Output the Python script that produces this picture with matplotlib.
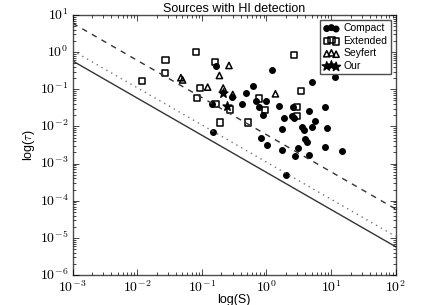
import numpy as np
import matplotlib
matplotlib.use('Agg')
import matplotlib.pyplot as plt
from matplotlib.ticker import FuncFormatter

plt.style.use('classic')
plt.rcParams['font.family'] = ['Liberation Sans', 'DejaVu Sans']
plt.rcParams['mathtext.fontset'] = 'cm'

# Compact sources: S, tau
compact_s = [0.164, 0.146, 0.292, 0.425, 0.490, 0.150, 1.216, 5.06, 11.7, 0.622,
             0.700, 1.00, 0.780, 1.560, 0.873, 2.57, 4.63, 7.91, 1.866, 2.455,
             2.636, 5.64, 3.55, 3.80, 5.12, 8.55, 1.738, 0.813, 3.94, 4.19,
             1.02, 3.13, 8.13, 1.770, 15.0, 2.76, 4.55, 1.98]
compact_tau = [0.431, 0.0402, 0.0601, 0.0406, 0.0783, 0.00730, 0.334, 0.157, 0.210, 0.124,
               0.0490, 0.0490, 0.0344, 0.0355, 0.0199, 0.0344, 0.0257, 0.0340, 0.0166, 0.0191,
               0.0169, 0.0137, 0.00977, 0.00802, 0.00977, 0.00918, 0.00863, 0.00504, 0.00473, 0.00385,
               0.00316, 0.00267, 0.00279, 0.00228, 0.00221, 0.00160, 0.00167, 0.000501]

# Extended sources
extended_s = [0.0117, 0.0269, 0.0275, 0.0818, 0.0927, 0.0832, 0.159, 0.163, 0.272,
              0.193, 0.522, 2.67, 3.42, 0.766, 0.948, 2.93, 2.96]
extended_tau = [0.167, 0.279, 0.603, 0.991, 0.107, 0.0593, 0.543, 0.0406, 0.0286,
                0.0128, 0.0128, 0.822, 0.0883, 0.0565, 0.0277, 0.0333, 0.0193]

# Seyfert
seyfert_s = [0.0474, 0.0505, 0.123, 0.187, 0.263, 0.214, 0.301, 1.377]
seyfert_tau = [0.205, 0.178, 0.114, 0.235, 0.437, 0.108, 0.0723, 0.0755]

# Our sources
our_s = [0.211, 0.242]
our_tau = [0.0794, 0.0366]

# detection limit lines tau = k / S
line_s = np.array([1e-3, 1e2])
k_solid = 5.8e-4
k_dotted = 1.1e-3
k_dashed = 6e-3

fig = plt.figure(figsize=(4.32, 3.05), dpi=100, facecolor='white')
ax = fig.add_axes([0.168, 0.098, 0.748, 0.853])

ax.plot(line_s, k_solid / line_s, '-', lw=1, color='0.2')
ax.plot(line_s, k_dotted / line_s, ':', lw=1, color='0.45')
ax.plot(line_s, k_dashed / line_s, '--', lw=1, color='0.2', dashes=(4, 4))

ax.scatter(compact_s, compact_tau, s=16, c='k', marker='o', label='Compact')
ax.scatter(extended_s, extended_tau, s=20, facecolors='none', edgecolors='k',
           marker='s', linewidths=1.1, label='Extended')
ax.scatter(seyfert_s, seyfert_tau, s=20, facecolors='none', edgecolors='k',
           marker='^', linewidths=1.1, label='Seyfert')
ax.scatter(our_s, our_tau, s=45, c='k', marker='*', label='Our')

ax.set_xscale('log')
ax.set_yscale('log')
ax.set_xlim(1e-3, 1e2)
ax.set_ylim(1e-6, 1e1)
fmt = FuncFormatter(lambda v, p: r'$10^{%d}$' % round(np.log10(v)))
ax.xaxis.set_major_formatter(fmt)
ax.yaxis.set_major_formatter(fmt)
ax.tick_params(labelsize=10, pad=3)
for sp in ax.spines.values():
    sp.set_color('0.3')

ax.set_xlabel('log(S)', fontsize=9, labelpad=-1)
ax.set_ylabel(r'log($\tau$)', fontsize=9, labelpad=2)
ax.set_title('Sources with HI detection', fontsize=9, pad=2)

leg = ax.legend(loc='upper right', fontsize=7.5, scatterpoints=3,
                borderaxespad=0.5, handletextpad=0.4, labelspacing=0.25,
                handlelength=1.5, borderpad=0.3)
leg.get_frame().set_edgecolor('0.3')

fig.savefig('out.png', dpi=100, facecolor='white')
